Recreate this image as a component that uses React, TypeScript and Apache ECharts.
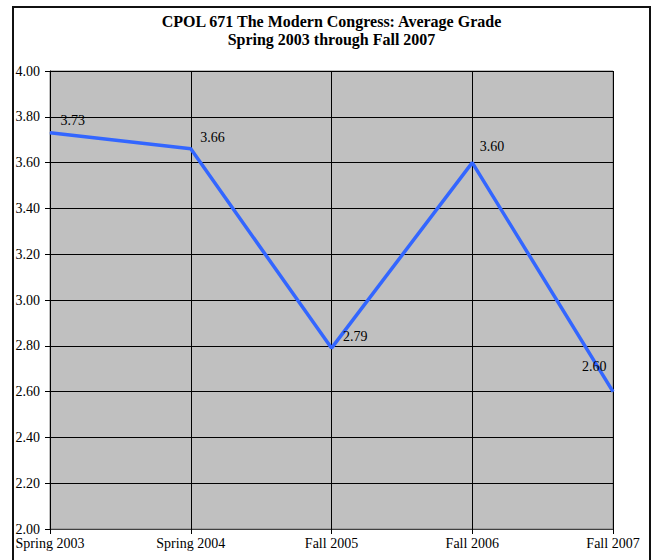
import React, { useEffect, useRef } from "react";
import * as echarts from "echarts";

const categories = ["Spring 2003", "Spring 2004", "Fall 2005", "Fall 2006", "Fall 2007"];
const grades = [3.73, 3.66, 2.79, 3.6, 2.6];
const titleLines = ["CPOL 671 The Modern Congress: Average Grade", "Spring 2003 through Fall 2007"];
const yMin = 2.0;
const yMax = 4.0;
const yStep = 0.2;

const labelPlacement: { pos: [number, number]; align: string }[] = [
  { pos: [11, -12], align: "left" },
  { pos: [10, -11], align: "left" },
  { pos: [12, -11], align: "left" },
  { pos: [8, -16], align: "left" },
  { pos: [-6, -25], align: "right" },
];

const FONT = "'Liberation Serif', 'Times New Roman', serif";

export default function App() {
  const ref = useRef<HTMLDivElement>(null);
  useEffect(() => {
    if (!ref.current) return;
    const chart = echarts.init(ref.current, null, { renderer: "svg" });
    chart.setOption({
      animation: false,
      backgroundColor: "#ffffff",
      textStyle: { fontFamily: FONT },
      graphic: [
        {
          type: "rect",
          shape: { x: 13, y: 7, width: 637, height: 620 },
          style: { fill: "none", stroke: "#111", lineWidth: 2 },
          silent: true,
          z: 100,
        },
        {
          type: "text",
          x: 331.5,
          y: 12.5,
          style: {
            text: titleLines.join("\n"),
            textAlign: "center",
            textVerticalAlign: "top",
            font: `bold 16px ${FONT}`,
            lineHeight: 18.3,
            fill: "#000",
          },
        },
      ],
      grid: {
        left: 50,
        top: 71,
        right: 44,
        bottom: 31,
        show: true,
        backgroundColor: "#C0C0C0",
        borderColor: "#808080",
        borderWidth: 1,
        containLabel: false,
      },
      xAxis: {
        type: "category",
        data: categories,
        boundaryGap: false,
        axisLine: { show: true, lineStyle: { color: "#404040", width: 1 } },
        axisTick: { show: true, length: 5, inside: false, lineStyle: { color: "#000" } },
        axisLabel: { color: "#000", fontSize: 14, fontFamily: FONT, margin: 7 },
        splitLine: { show: true, lineStyle: { color: "#000", width: 1 } },
      },
      yAxis: {
        type: "value",
        min: yMin,
        max: yMax,
        interval: yStep,
        axisLine: { show: true, lineStyle: { color: "#000", width: 1 } },
        axisTick: { show: true, length: 5, lineStyle: { color: "#000" } },
        axisLabel: {
          color: "#000",
          fontSize: 14,
          fontFamily: FONT,
          margin: 10,
          formatter: (v: number) => v.toFixed(2),
        },
        splitLine: { show: true, lineStyle: { color: "#000", width: 1 } },
      },
      series: [
        {
          type: "line",
          data: grades.map((v, i) => ({
            value: v,
            label: {
              position: labelPlacement[i].pos,
              align: labelPlacement[i].align,
            },
          })),
          symbol: "circle",
          symbolSize: 1,
          showSymbol: true,
          itemStyle: { color: "#3366FF" },
          lineStyle: { color: "#3366FF", width: 3.5 },
          label: {
            show: true,
            color: "#000",
            fontSize: 14,
            fontFamily: FONT,
            verticalAlign: "middle",
            formatter: (p: any) => Number(p.value).toFixed(2),
          },
          z: 5,
        },
      ],
    });
    return () => chart.dispose();
  }, []);
  return (
    <div
      ref={ref}
      style={{ position: "absolute", left: 0, top: 0, width: 657, height: 560 }}
    />
  );
}
